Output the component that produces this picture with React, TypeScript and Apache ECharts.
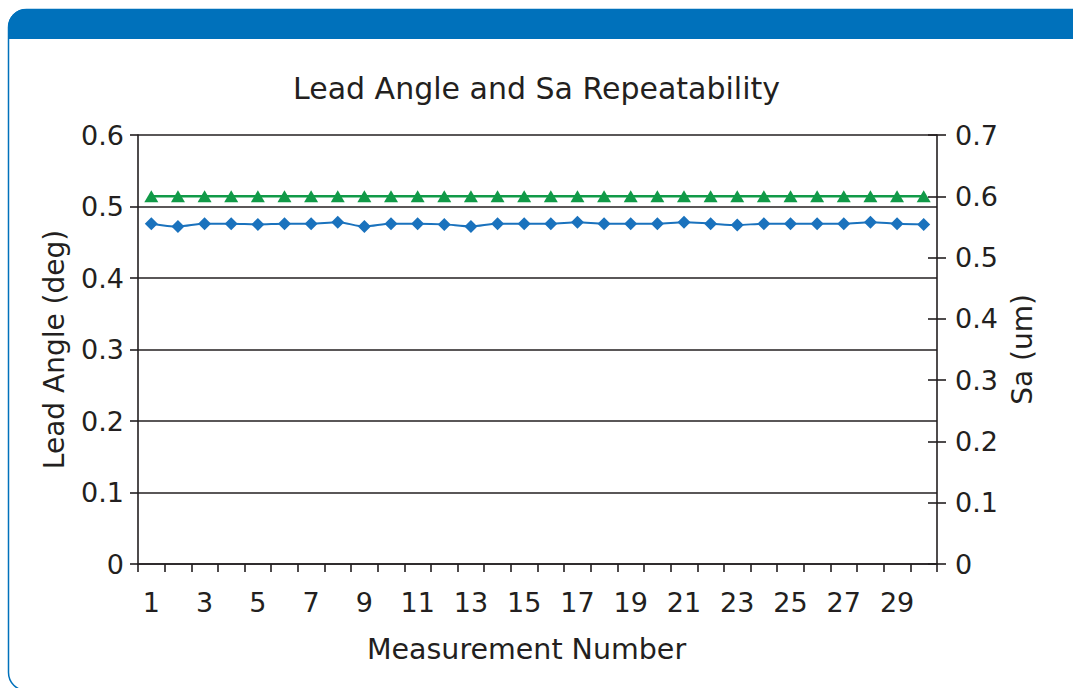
import React, { useEffect, useRef } from "react";
import * as echarts from "echarts";

const titleText = "Lead Angle and Sa Repeatability";
const xName = "Measurement Number";
const leftName = "Lead Angle (deg)";
const rightName = "Sa (um)";

const categories = [
  "1", "2", "3", "4", "5", "6", "7", "8", "9", "10",
  "11", "12", "13", "14", "15", "16", "17", "18", "19", "20",
  "21", "22", "23", "24", "25", "26", "27", "28", "29", "30",
];

const leadAngle = [
  0.476, 0.472, 0.476, 0.476, 0.475, 0.476, 0.476, 0.478, 0.472, 0.476,
  0.476, 0.475, 0.472, 0.476, 0.476, 0.476, 0.478, 0.476, 0.476, 0.476,
  0.478, 0.476, 0.474, 0.476, 0.476, 0.476, 0.476, 0.478, 0.476, 0.475,
];

const sa = [
  0.6, 0.6, 0.6, 0.6, 0.6, 0.6, 0.6, 0.6, 0.6, 0.6,
  0.6, 0.6, 0.6, 0.6, 0.6, 0.6, 0.6, 0.6, 0.6, 0.6,
  0.6, 0.6, 0.6, 0.6, 0.6, 0.6, 0.6, 0.6, 0.6, 0.6,
];

const FONT = "DejaVu Sans";
const INK = "#231f20";
const FRAME_BLUE = "#0071bb";
const LINE_BLUE = "#1a72bd";
const GREEN = "#119a48";

export default function App() {
  const ref = useRef<HTMLDivElement>(null);

  useEffect(() => {
    document.body.style.margin = "0";
    if (!ref.current) return;
    const chart = echarts.init(ref.current, null, { renderer: "svg" });
    const axisLine = { show: true, lineStyle: { color: INK, width: 1.6 } };
    chart.setOption({
      animation: false,
      backgroundColor: "#ffffff",
      textStyle: { fontFamily: FONT },
      graphic: [
        {
          type: "rect",
          z: -10,
          shape: { x: 8.5, y: 9.5, width: 1100, height: 681, r: 18 },
          style: { fill: "#ffffff", stroke: FRAME_BLUE, lineWidth: 1.5 },
        },
        {
          type: "rect",
          z: -9,
          shape: { x: 8, y: 9, width: 1100, height: 30, r: [18, 0, 0, 0] },
          style: { fill: FRAME_BLUE },
        },
      ],
      title: {
        text: titleText,
        left: "center",
        top: 66,
        textStyle: { fontFamily: FONT, fontSize: 30, fontWeight: "normal", color: INK, lineHeight: 34 },
      },
      grid: { left: 138, right: 136, top: 135, bottom: 124, containLabel: false },
      xAxis: {
        type: "category",
        data: categories,
        boundaryGap: true,
        name: xName,
        nameLocation: "middle",
        nameGap: 71,
        nameTextStyle: { fontFamily: FONT, fontSize: 28.5, color: INK, padding: [0, 22, 0, 0] },
        axisLine,
        axisTick: { show: true, interval: 0, length: 8, lineStyle: { color: INK, width: 1.6 } },
        axisLabel: { interval: 1, margin: 25, fontFamily: FONT, fontSize: 27, color: INK },
        splitLine: { show: false },
      },
      yAxis: [
        {
          type: "value",
          position: "left",
          min: 0,
          max: 0.6,
          interval: 0.1,
          name: leftName,
          nameLocation: "middle",
          nameGap: 70,
          nameRotate: 90,
          nameTextStyle: { fontFamily: FONT, fontSize: 28, color: INK },
          axisLine,
          axisTick: { show: true, length: 8, lineStyle: { color: INK, width: 1.6 } },
          axisLabel: { margin: 14, fontFamily: FONT, fontSize: 27, color: INK },
          splitLine: { show: true, lineStyle: { color: INK, width: 1.6 } },
        },
        {
          type: "value",
          position: "right",
          min: 0,
          max: 0.7,
          interval: 0.1,
          name: rightName,
          nameLocation: "middle",
          nameGap: 71,
          nameRotate: 90,
          nameTextStyle: { fontFamily: FONT, fontSize: 28, color: INK },
          axisLine,
          axisTick: { show: true, length: 9, lineStyle: { color: INK, width: 1.6 } },
          axisLabel: { margin: 18, fontFamily: FONT, fontSize: 27, color: INK },
          splitLine: { show: false },
        },
        {
          type: "value",
          position: "right",
          min: 0,
          max: 0.7,
          interval: 0.1,
          axisLine: { show: false },
          axisTick: { show: true, inside: true, length: 9, lineStyle: { color: INK, width: 1.6 } },
          axisLabel: { show: false },
          splitLine: { show: false },
        },
      ],
      series: [
        {
          name: leftName,
          type: "line",
          yAxisIndex: 0,
          data: leadAngle,
          smooth: 0.3,
          symbol: "diamond",
          symbolSize: [13, 13],
          lineStyle: { color: LINE_BLUE, width: 2 },
          itemStyle: { color: LINE_BLUE },
          z: 5,
        },
        {
          name: rightName,
          type: "line",
          yAxisIndex: 1,
          data: sa,
          symbol: "triangle",
          symbolSize: [14, 12],
          lineStyle: { color: GREEN, width: 2.5 },
          itemStyle: { color: GREEN },
          z: 5,
        },
      ],
    });
    return () => chart.dispose();
  }, []);

  return <div ref={ref} style={{ width: 1073, height: 688 }} />;
}
